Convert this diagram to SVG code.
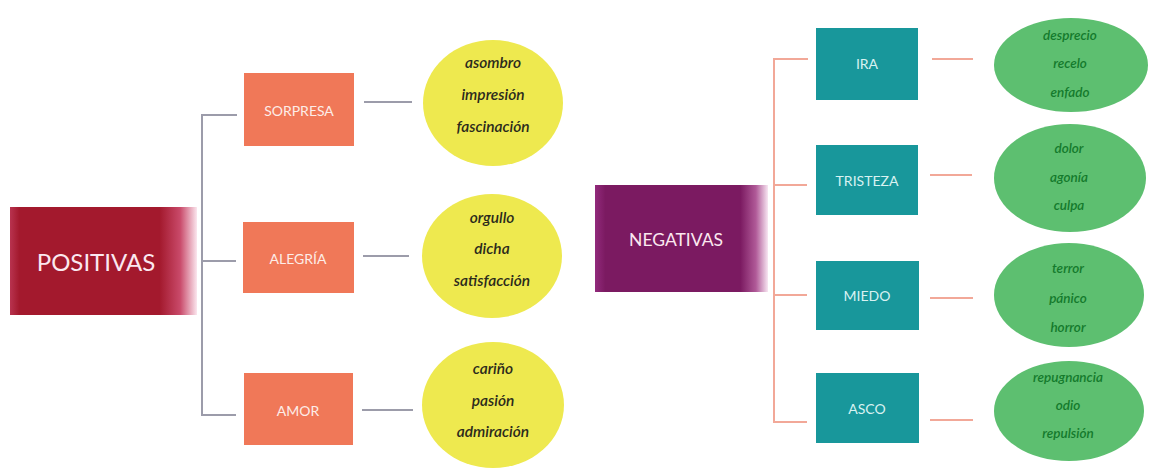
<svg xmlns="http://www.w3.org/2000/svg" width="1152" height="469" viewBox="0 0 1152 469">
  <defs>
    <linearGradient id="gPos" x1="0" y1="0" x2="1" y2="0">
      <stop offset="0" stop-color="#B8334F"/>
      <stop offset="0.05" stop-color="#A3192D"/>
      <stop offset="0.80" stop-color="#A3192D"/>
      <stop offset="0.91" stop-color="#C94A6A"/>
      <stop offset="1" stop-color="#FBE6EE"/>
    </linearGradient>
    <linearGradient id="gNeg" x1="0" y1="0" x2="1" y2="0">
      <stop offset="0" stop-color="#922A7C"/>
      <stop offset="0.06" stop-color="#7B1A61"/>
      <stop offset="0.84" stop-color="#7B1A61"/>
      <stop offset="0.93" stop-color="#B05A98"/>
      <stop offset="1" stop-color="#F8E6F2"/>
    </linearGradient>
  </defs>
  <style>
    .orange { fill: #F07858; }
    .teal { fill: #18979B; }
    .yellow { fill: #EEE94F; }
    .green { fill: #5DBF70; }
    .lbl { font-family: Lato, "Open Sans", sans-serif; font-size: 14px; text-anchor: middle; dominant-baseline: central; }
    .lblO { fill: #FDEDE8; }
    .lblT { fill: #D8F2F2; }
    .big { font-family: Lato, "Open Sans", sans-serif; text-anchor: middle; dominant-baseline: central; fill: #FBE8F0; }
    .hw { font-family: Lato, "Open Sans", sans-serif; font-style: italic; font-weight: 600; text-anchor: middle; dominant-baseline: central; }
    .hwY { font-size: 15.5px; fill: #2B2A1C; }
    .hwG { font-size: 13.5px; fill: #147A2C; }
    .cg { stroke: #9C9CAA; stroke-width: 2; fill: none; }
    .cs { stroke: #F2A898; stroke-width: 2; fill: none; }
  </style>
  <rect width="1152" height="469" fill="#FFFFFF"/>

  <g id="connectors">
    <polyline class="cg" points="237,115 202,115 202,415 236,415"/>
    <line class="cg" x1="202" y1="261" x2="236" y2="261"/>
    <line class="cg" x1="364" y1="102" x2="412" y2="102"/>
    <line class="cg" x1="363" y1="256" x2="409" y2="256"/>
    <line class="cg" x1="362" y1="410" x2="413" y2="410"/>
    <polyline class="cs" points="808,59 774,59 774,422 807,422"/>
    <line class="cs" x1="774" y1="185" x2="807" y2="185"/>
    <line class="cs" x1="774" y1="295" x2="807" y2="295"/>
    <line class="cs" x1="932" y1="59" x2="973" y2="59"/>
    <line class="cs" x1="930" y1="175" x2="972" y2="175"/>
    <line class="cs" x1="930" y1="298" x2="973" y2="298"/>
    <line class="cs" x1="930" y1="420" x2="973" y2="420"/>
  </g>

  <g id="positivas">
    <rect x="10" y="207" width="187" height="108" fill="url(#gPos)"/>
    <text class="big" x="96" y="261" font-size="24">POSITIVAS</text>
  </g>
  <g id="negativas">
    <rect x="595" y="185" width="173" height="107" fill="url(#gNeg)"/>
    <text class="big" x="676" y="239" font-size="17.5">NEGATIVAS</text>
  </g>

  <g id="sorpresa">
    <rect class="orange" x="244" y="73" width="110" height="73"/>
    <text class="lbl lblO" x="299" y="110">SORPRESA</text>
  </g>
  <g id="alegria">
    <rect class="orange" x="243" y="222" width="111" height="71"/>
    <text class="lbl lblO" x="298" y="258">ALEGRÍA</text>
  </g>
  <g id="amor">
    <rect class="orange" x="244" y="373" width="109" height="72"/>
    <text class="lbl lblO" x="298" y="410">AMOR</text>
  </g>

  <g id="e-sorpresa">
    <ellipse class="yellow" cx="493" cy="103" rx="70" ry="63"/>
    <text class="hw hwY" x="493" y="62">asombro</text>
    <text class="hw hwY" x="493" y="94">impresión</text>
    <text class="hw hwY" x="493" y="126">fascinación</text>
  </g>
  <g id="e-alegria">
    <ellipse class="yellow" cx="492" cy="256" rx="70" ry="62"/>
    <text class="hw hwY" x="492" y="217">orgullo</text>
    <text class="hw hwY" x="492" y="248">dicha</text>
    <text class="hw hwY" x="492" y="280">satisfacción</text>
  </g>
  <g id="e-amor">
    <ellipse class="yellow" cx="493" cy="405" rx="71" ry="63"/>
    <text class="hw hwY" x="493" y="368">cariño</text>
    <text class="hw hwY" x="493" y="400">pasión</text>
    <text class="hw hwY" x="493" y="431">admiración</text>
  </g>

  <g id="ira">
    <rect class="teal" x="816" y="28" width="102" height="72"/>
    <text class="lbl lblT" x="867" y="63">IRA</text>
  </g>
  <g id="tristeza">
    <rect class="teal" x="816" y="145" width="102" height="70"/>
    <text class="lbl lblT" x="867" y="180">TRISTEZA</text>
  </g>
  <g id="miedo">
    <rect class="teal" x="816" y="261" width="103" height="69"/>
    <text class="lbl lblT" x="867" y="295">MIEDO</text>
  </g>
  <g id="asco">
    <rect class="teal" x="816" y="373" width="103" height="70"/>
    <text class="lbl lblT" x="867" y="408">ASCO</text>
  </g>

  <g id="e-ira">
    <ellipse class="green" cx="1071" cy="65" rx="77" ry="47"/>
    <text class="hw hwG" x="1070" y="35">desprecio</text>
    <text class="hw hwG" x="1070" y="63">recelo</text>
    <text class="hw hwG" x="1070" y="92">enfado</text>
  </g>
  <g id="e-tristeza">
    <ellipse class="green" cx="1070" cy="178" rx="76" ry="54"/>
    <text class="hw hwG" x="1069" y="148">dolor</text>
    <text class="hw hwG" x="1069" y="177">agonía</text>
    <text class="hw hwG" x="1069" y="205">culpa</text>
  </g>
  <g id="e-miedo">
    <ellipse class="green" cx="1069" cy="295" rx="75" ry="52"/>
    <text class="hw hwG" x="1068" y="268">terror</text>
    <text class="hw hwG" x="1068" y="298">pánico</text>
    <text class="hw hwG" x="1068" y="327">horror</text>
  </g>
  <g id="e-asco">
    <ellipse class="green" cx="1069" cy="411" rx="75" ry="50"/>
    <text class="hw hwG" x="1068" y="377">repugnancia</text>
    <text class="hw hwG" x="1068" y="405">odio</text>
    <text class="hw hwG" x="1068" y="433">repulsión</text>
  </g>
</svg>
